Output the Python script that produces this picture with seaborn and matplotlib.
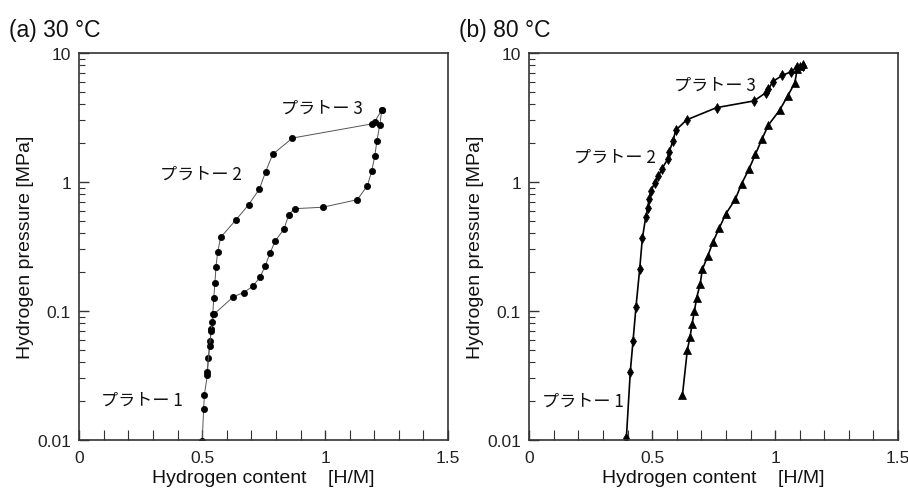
import matplotlib
matplotlib.use("Agg")
import matplotlib.pyplot as plt
import seaborn as sns
import numpy as np
import pandas as pd
from matplotlib.ticker import FixedLocator, LogLocator, NullFormatter, FixedFormatter

# ---- data: panel (a) 30 °C ----
a_abs_x = [0.500, 0.506, 0.509, 0.521, 0.525, 0.533, 0.537, 0.543, 0.547, 0.552, 0.556,
           0.563, 0.575, 0.636, 0.689, 0.733, 0.758, 0.787, 0.867, 1.190, 1.202, 1.231]
a_abs_p = [0.0098, 0.0173, 0.0225, 0.0317, 0.043, 0.059, 0.073, 0.094, 0.125, 0.166, 0.219,
           0.286, 0.372, 0.505, 0.667, 0.883, 1.20, 1.64, 2.19, 2.82, 2.94, 3.62]
a_des_x = [1.231, 1.222, 1.211, 1.202, 1.190, 1.172, 1.131, 0.990, 0.876, 0.852, 0.833,
           0.798, 0.776, 0.757, 0.735, 0.705, 0.669, 0.627, 0.549, 0.541, 0.536, 0.530, 0.520]
a_des_p = [3.62, 2.75, 2.09, 1.59, 1.22, 0.937, 0.729, 0.637, 0.621, 0.558, 0.432,
           0.351, 0.282, 0.225, 0.182, 0.155, 0.139, 0.129, 0.0948, 0.0826, 0.0695, 0.054, 0.0336]

# ---- data: panel (b) 80 °C ----
b_abs_x = [0.395, 0.395, 0.411, 0.422, 0.434, 0.449, 0.460, 0.474, 0.482, 0.487, 0.495,
           0.510, 0.525, 0.540, 0.563, 0.569, 0.584, 0.596, 0.640, 0.762, 0.914, 0.963,
           0.973, 0.990, 1.030, 1.066, 1.088, 1.112]
b_abs_p = [0.0091, 0.0104, 0.0339, 0.0585, 0.107, 0.210, 0.366, 0.538, 0.628, 0.734, 0.847,
           0.988, 1.11, 1.27, 1.50, 1.71, 2.07, 2.52, 3.03, 3.77, 4.25, 4.93,
           5.23, 6.00, 6.71, 7.17, 7.79, 7.98]
b_des_x = [1.115, 1.100, 1.090, 1.080, 1.051, 1.018, 0.973, 0.946, 0.920, 0.893, 0.864,
           0.838, 0.800, 0.773, 0.748, 0.726, 0.704, 0.695, 0.681, 0.672, 0.662, 0.654,
           0.643, 0.623]
b_des_p = [8.17, 7.9, 7.5, 5.85, 4.64, 3.59, 2.77, 2.14, 1.64, 1.25, 0.971,
           0.734, 0.568, 0.440, 0.345, 0.267, 0.210, 0.161, 0.127, 0.100, 0.0788, 0.0629,
           0.0499, 0.0222]

panel_titles = ["(a) 30 °C", "(b) 80 °C"]
x_label = "Hydrogen content    [H/M]"
y_label = "Hydrogen pressure [MPa]"
x_ticks = [0, 0.5, 1, 1.5]
x_tick_labels = ["0", "0.5", "1", "1.5"]
y_ticks = [0.01, 0.1, 1, 10]
y_tick_labels = ["0.01", "0.1", "1", "10"]
plateau_labels = ["プラトー 1", "プラトー 2", "プラトー 3"]
a_label_pos = [(0.09, 0.0205), (0.33, 1.15), (0.82, 3.75)]
b_label_pos = [(0.05, 0.020), (0.18, 1.58), (0.59, 5.7)]

sns.set_theme(style="white")
plt.rcParams['font.family'] = ['Liberation Sans', 'Noto Sans CJK JP', 'DejaVu Sans']

fig = plt.figure(figsize=(9.08, 4.89), dpi=100)
axA = fig.add_axes([0.0873, 0.0982, 0.4061, 0.7914])
axB = fig.add_axes([0.5829, 0.0982, 0.4061, 0.7914])

def draw(ax, series, labels_pos, title):
    for xs, ps, mk, ms, lw, lc in series:
        df = pd.DataFrame({"x": xs, "p": ps})
        sns.lineplot(data=df, x="x", y="p", ax=ax, sort=False, estimator=None,
                     color=lc, linewidth=lw, marker=mk, markersize=ms,
                     markerfacecolor="black", markeredgecolor="black", markeredgewidth=0.5)
    ax.set_yscale("log")
    ax.set_xlim(0, 1.5)
    ax.set_ylim(0.01, 10)
    ax.xaxis.set_major_locator(FixedLocator(x_ticks))
    ax.xaxis.set_major_formatter(FixedFormatter(x_tick_labels))
    ax.xaxis.set_minor_locator(FixedLocator(np.arange(0.1, 1.5, 0.1)))
    ax.yaxis.set_major_locator(FixedLocator(y_ticks))
    ax.yaxis.set_major_formatter(FixedFormatter(y_tick_labels))
    ax.yaxis.set_minor_locator(LogLocator(base=10, subs=np.arange(2, 10)))
    ax.yaxis.set_minor_formatter(NullFormatter())
    ax.tick_params(which="both", direction="in", left=True, bottom=True, top=False, right=False)
    ax.tick_params(which="major", length=7, width=1, labelsize=12.5, colors="#333333",
                   labelcolor="#222222")
    ax.tick_params(which="minor", length=4, width=0.8, colors="#333333")
    ax.tick_params(axis="x", which="minor", length=7)
    ax.tick_params(axis="x", pad=7)
    ax.tick_params(axis="y", pad=6)
    for s in ax.spines.values():
        s.set_color("#333333")
        s.set_linewidth(1.2)
        s.set_visible(True)
    ax.set_xlabel(x_label, fontsize=14, labelpad=3, color="#111111")
    ax.set_ylabel(y_label, fontsize=14, labelpad=2, color="#111111")
    for lab, (tx, ty) in zip(plateau_labels, labels_pos):
        ax.text(tx, ty, lab, fontsize=12.3, va="center", ha="left",
                family=['Noto Sans CJK JP', 'DejaVu Sans'], color="#111111")
    ax.text(-0.19, 1.06, title, transform=ax.transAxes, fontsize=16.5,
            ha="left", va="center", color="#111111")

draw(axA, [(a_abs_x, a_abs_p, "o", 4.5, 0.7, "#555555"),
           (a_des_x, a_des_p, "o", 4.5, 0.7, "#555555")], a_label_pos, panel_titles[0])
draw(axB, [(b_abs_x, b_abs_p, "d", 5.5, 1.2, "black"),
           (b_des_x, b_des_p, "^", 6, 1.2, "black")], b_label_pos, panel_titles[1])

fig.savefig("out.png", dpi=100)
